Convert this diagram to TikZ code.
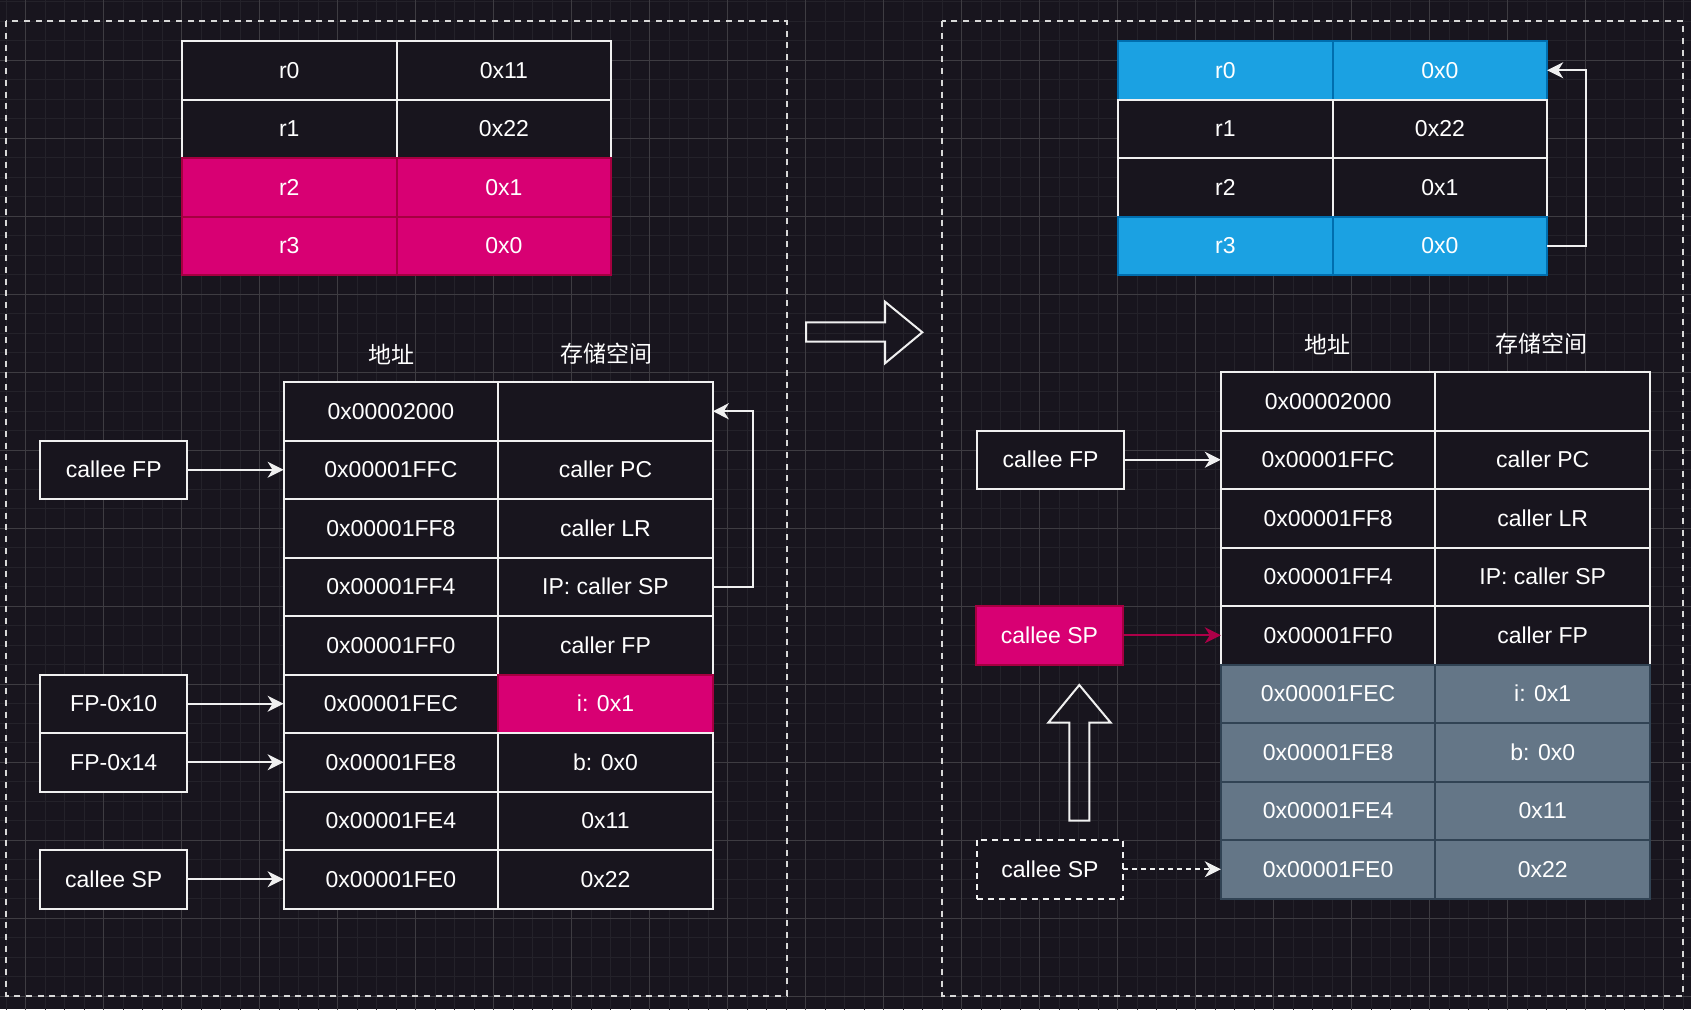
\documentclass[tikz,border=0pt]{standalone}
\usepackage{fontspec}
\setmainfont{Liberation Sans}
\newfontfamily\cjk{Noto Sans CJK SC}
\usetikzlibrary{arrows.meta, positioning}

\definecolor{canvas}{RGB}{24,21,30}
\definecolor{gridlo}{RGB}{36,34,42}
\definecolor{gridhi}{RGB}{62,60,66}
\definecolor{edge}{RGB}{240,240,240}
\definecolor{magfill}{HTML}{D80073}
\definecolor{magline}{HTML}{A50040}
\definecolor{bluefill}{HTML}{1BA1E2}
\definecolor{blueline}{HTML}{006EAF}
\definecolor{slatefill}{HTML}{647687}
\definecolor{slateline}{HTML}{314354}

\begin{document}
\begin{tikzpicture}[
    x=1pt, y=1pt,
    node distance = 0pt,
    cell/.style   = {draw=edge, fill=canvas, line width=2pt, minimum width=214.6pt,
                     minimum height=58.5pt, inner sep=0pt, outer sep=0pt,
                     text=white, font=\fontsize{23}{28}\selectfont},
    hot/.style    = {cell, draw=magline, fill=magfill},
    live/.style   = {cell, draw=blueline, fill=bluefill},
    freed/.style  = {cell, draw=slateline, fill=slatefill},
    tag/.style    = {cell, minimum width=146.6pt},
    hottag/.style = {hot, minimum width=146.6pt},
    ghost/.style  = {tag, dash pattern=on 6pt off 5pt},
    head/.style   = {text=white, font=\cjk\fontsize{23}{28}\selectfont},
    arr/.style    = {-{Stealth[length=16pt, width=16pt, inset=5pt]}, draw=edge, line width=2pt},
    frame/.style  = {draw=edge!90!black, line width=2pt, dash pattern=on 6pt off 5.7pt},
    block/.style  = {draw=edge, line width=2pt},
]
% canvas and grid
\fill[canvas] (0,0) rectangle (1691,-1009);
\useasboundingbox (0,0) rectangle (1691,-1009);
\begin{scope}
  \clip (0,0) rectangle (1691,-1009);
  \draw[gridlo, line width=1pt, xshift=6.2pt, yshift=-1.8pt, step=19.5pt] (-20,-1030) grid (1700,20);
  \draw[gridhi, line width=1pt, xshift=25.7pt, yshift=-60.3pt, step=78pt] (-80,-1090) grid (1700,80);
\end{scope}
\draw[frame] (6.3,-21.3) rectangle (786.7,-996);
\draw[frame] (942.3,-21.3) rectangle (1683.3,-996);

% Left: registers
\node[cell, anchor=north west] (lr0) at (182,-41) {r0};
\node[cell, right=of lr0] (lr0v) {0x11};
\node[cell, below=of lr0] (lr1) {r1};
\node[cell, right=of lr1] (lr1v) {0x22};
\node[hot, below=of lr1]  (lr2) {r2};
\node[hot, right=of lr2]  (lr2v) {0x1};
\node[hot, below=of lr2]  (lr3) {r3};
\node[hot, right=of lr3]  (lr3v) {0x0};

% Left: stack frame
\node[head] (laddr)  at (391,-354) {地址};
\node[head] (lspace) at (606,-354) {存储空间};
\node[cell, anchor=north west] (la1) at (283.6,-382) {0x00002000};
\node[cell, right=of la1] (lv1) {};
\node[cell, below=of la1] (la2) {0x00001FFC};
\node[cell, right=of la2] (lv2) {caller PC};
\node[cell, below=of la2] (la3) {0x00001FF8};
\node[cell, right=of la3] (lv3) {caller LR};
\node[cell, below=of la3] (la4) {0x00001FF4};
\node[cell, right=of la4] (lv4) {IP: caller SP};
\node[cell, below=of la4] (la5) {0x00001FF0};
\node[cell, right=of la5] (lv5) {caller FP};
\node[cell, below=of la5] (la6) {0x00001FEC};
\node[hot, right=of la6]  (lv6) {i: 0x1};
\node[cell, below=of la6] (la7) {0x00001FE8};
\node[cell, right=of la7] (lv7) {b: 0x0};
\node[cell, below=of la7] (la8) {0x00001FE4};
\node[cell, right=of la8] (lv8) {0x11};
\node[cell, below=of la8] (la9) {0x00001FE0};
\node[cell, right=of la9] (lv9) {0x22};

\node[tag, left=96.6pt of la2] (lfp)   {callee FP};
\node[tag, left=96.6pt of la6] (lfp10) {FP-0x10};
\node[tag, left=96.6pt of la7] (lfp14) {FP-0x14};
\node[tag, left=96.6pt of la9] (lsp)   {callee SP};

\draw[arr] (lfp)   -- (la2);
\draw[arr] (lfp10) -- (la6);
\draw[arr] (lfp14) -- (la7);
\draw[arr] (lsp)   -- (la9);
\draw[arr] (lv4.east) -- ++(40,0) |- (lv1.east);

% step arrow
\draw[block] (806,-322.3) -- (885,-322.3) -- (885,-301.7) -- (922.3,-332.3)
  -- (885,-363.3) -- (885,-341.7) -- (806,-341.7) -- cycle;

% Right: registers
\node[live, anchor=north west] (rr0) at (1118,-41) {r0};
\node[live, right=of rr0] (rr0v) {0x0};
\node[cell, below=of rr0] (rr1) {r1};
\node[cell, right=of rr1] (rr1v) {0x22};
\node[cell, below=of rr1] (rr2) {r2};
\node[cell, right=of rr2] (rr2v) {0x1};
\node[live, below=of rr2] (rr3) {r3};
\node[live, right=of rr3] (rr3v) {0x0};
\draw[arr] (rr3v.east) -- ++(39,0) |- (rr0v.east);

% Right: stack after return
\node[head] (raddr)  at (1327,-344) {地址};
\node[head] (rspace) at (1541,-344) {存储空间};
\node[cell, anchor=north west] (ra1) at (1220.8,-372) {0x00002000};
\node[cell, right=of ra1]  (rv1) {};
\node[cell, below=of ra1]  (ra2) {0x00001FFC};
\node[cell, right=of ra2]  (rv2) {caller PC};
\node[cell, below=of ra2]  (ra3) {0x00001FF8};
\node[cell, right=of ra3]  (rv3) {caller LR};
\node[cell, below=of ra3]  (ra4) {0x00001FF4};
\node[cell, right=of ra4]  (rv4) {IP: caller SP};
\node[cell, below=of ra4]  (ra5) {0x00001FF0};
\node[cell, right=of ra5]  (rv5) {caller FP};
\node[freed, below=of ra5] (ra6) {0x00001FEC};
\node[freed, right=of ra6] (rv6) {i: 0x1};
\node[freed, below=of ra6] (ra7) {0x00001FE8};
\node[freed, right=of ra7] (rv7) {b: 0x0};
\node[freed, below=of ra7] (ra8) {0x00001FE4};
\node[freed, right=of ra8] (rv8) {0x11};
\node[freed, below=of ra8] (ra9) {0x00001FE0};
\node[freed, right=of ra9] (rv9) {0x22};

\node[tag, left=97pt of ra2]    (rfp)   {callee FP};
\node[hottag, left=98pt of ra5] (rsp)   {callee SP};
\node[ghost, left=97.5pt of ra9] (rspold) {callee SP};

\draw[arr] (rfp) -- (ra2);
\draw[arr, draw=magline!85!magfill] (rsp) -- (ra5);
\draw[arr, dash pattern=on 5pt off 4pt] (rspold) -- (ra9);

% SP moves up
\draw[block] (1069.3,-820.7) -- (1069.3,-722.7) -- (1048.3,-722.7) -- (1079.3,-685)
  -- (1110.7,-722.7) -- (1089.3,-722.7) -- (1089.3,-820.7) -- cycle;

\end{tikzpicture}
\end{document}
